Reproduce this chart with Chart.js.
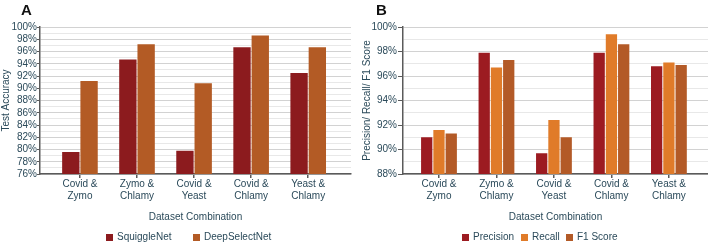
<!DOCTYPE html>
<html lang="en">
  <head>
    <meta charset="UTF-8" />
    <title>Test accuracy and precision / recall / F1</title>
  </head>
  <style>
    * {
      margin: 0;
      padding: 0;
      font-family: "Liberation Sans", Arial, sans-serif;
    }
    body {
      width: 708px;
      height: 243px;
      background: white;
      position: relative;
      overflow: hidden;
    }
    .panel {
      position: absolute;
      top: 0;
      width: 354px;
      height: 243px;
    }
    .letter {
      position: absolute;
      top: 1px;
      font-size: 15px;
      font-weight: bold;
      color: #111;
    }
    .legendItem {
      position: absolute;
      top: 232px;
      height: 10px;
      line-height: 10px;
      font-size: 10px;
      color: #2b4a5a;
      white-space: nowrap;
    }
    .legendItem span {
      display: inline-block;
      width: 7px;
      height: 7px;
      margin-right: 4px;
      vertical-align: -1px;
    }
  </style>
  <body>
    <div class="panel" style="left: 0">
      <canvas id="chartA" width="354" height="243"></canvas>
    </div>
    <div class="panel" style="left: 354px">
      <canvas id="chartB" width="354" height="243"></canvas>
    </div>
    <div class="letter" style="left: 21px">A</div>
    <div class="letter" style="left: 376px">B</div>
    <div id="legendA"></div>
    <div id="legendB"></div>

    <script src="https://cdn.jsdelivr.net/npm/chart.js"></script>

    <script>
      // data block
      const categories = [
        ["Covid &", "Zymo"],
        ["Zymo &", "Chlamy"],
        ["Covid &", "Yeast"],
        ["Covid &", "Chlamy"],
        ["Yeast &", "Chlamy"]
      ];
      const squiggleNet = [79.6, 94.7, 79.8, 96.7, 92.5];
      const deepSelectNet = [91.2, 97.2, 90.8, 98.6, 96.7];
      const precision = [91.0, 97.9, 89.7, 97.9, 96.8];
      const recall = [91.6, 96.7, 92.4, 99.4, 97.1];
      const f1Score = [91.3, 97.3, 91.0, 98.6, 96.9];

      const textColor = "#2b4a5a";
      const axisColor = "#5a5a5a";

      Chart.defaults.font.family = '"Liberation Sans", Arial, sans-serif';
      Chart.defaults.font.size = 10;
      Chart.defaults.color = textColor;

      const points = (values) => values.map((v, i) => ({ x: i, y: v }));

      function makeChart(id, opts) {
        const datasets = opts.series.map((s) => ({
          label: s.label,
          data: points(s.values),
          backgroundColor: s.color,
          borderWidth: 0,
          barPercentage: opts.barPct,
          categoryPercentage: opts.catPct
        }));

        return new Chart(document.getElementById(id), {
          type: "bar",
          data: { datasets },
          options: {
            responsive: false,
            animation: false,
            devicePixelRatio: 1,
            layout: { padding: { top: 27, right: opts.padRight, bottom: 0, left: 0 } },
            plugins: { legend: { display: false }, tooltip: { enabled: false } },
            scales: {
              x: {
                type: "linear",
                min: opts.xMin,
                max: opts.xMax,
                offset: false,
                afterBuildTicks: (s) => {
                  s.ticks = categories.map((c, i) => ({ value: i }));
                },
                afterFit: (s) => {
                  s.height = 69;
                },
                ticks: {
                  autoSkip: false,
                  maxRotation: 0,
                  padding: 0,
                  callback: (v) => categories[v]
                },
                grid: {
                  offset: false,
                  drawOnChartArea: false,
                  tickLength: 4,
                  color: axisColor,
                  lineWidth: 1.5
                },
                border: { color: axisColor, width: 1.5 },
                title: {
                  display: true,
                  text: "Dataset Combination",
                  padding: { top: 0, bottom: 20 }
                }
              },
              y: {
                min: opts.yMin,
                max: 100,
                afterFit: (s) => {
                  s.width = opts.yWidth;
                },
                ticks: {
                  stepSize: 1,
                  autoSkip: false,
                  padding: opts.tickPad,
                  callback: (v) => (v % 2 === 0 ? v + "%" : "")
                },
                grid: {
                  tickLength: opts.tickLen,
                  color: (c) => (c.tick && c.tick.value % 2 === 0 ? "#d2d2d2" : "#e8e8e8"),
                  tickColor: (c) => (c.tick && c.tick.value % 2 === 0 ? axisColor : "rgba(0,0,0,0)")
                },
                border: { color: axisColor, width: 1.5 },
                title: {
                  display: true,
                  text: opts.yTitle,
                  padding: { top: opts.titlePad, bottom: 0 }
                }
              }
            }
          }
        });
      }

      const chartA = makeChart("chartA", {
        series: [
          { label: "SquiggleNet", values: squiggleNet, color: "#8c1b1e" },
          { label: "DeepSelectNet", values: deepSelectNet, color: "#b35b25" }
        ],
        xMin: -0.7,
        xMax: 4.75,
        yMin: 76,
        yWidth: 40,
        tickLen: 3,
        tickPad: 0,
        titlePad: 0,
        padRight: 3,
        barPct: 0.95,
        catPct: 0.64,
        yTitle: "Test Accuracy"
      });

      const chartB = makeChart("chartB", {
        series: [
          { label: "Precision", values: precision, color: "#9c1b21" },
          { label: "Recall", values: recall, color: "#e07b29" },
          { label: "F1 Score", values: f1Score, color: "#b35a27" }
        ],
        xMin: -0.626,
        xMax: 4.68,
        yMin: 88,
        yWidth: 49,
        tickLen: 5,
        tickPad: 1,
        titlePad: 7,
        padRight: 0,
        barPct: 0.92,
        catPct: 0.64,
        yTitle: "Precision/ Recall/ F1 Score"
      });

      // html legends, placed under each panel
      function legend(id, chart, lefts) {
        const box = document.getElementById(id);
        chart.data.datasets.forEach((d, i) => {
          const item = document.createElement("div");
          item.className = "legendItem";
          item.style.left = lefts[i] + "px";
          item.innerHTML = '<span style="background:' + d.backgroundColor + '"></span>' + d.label;
          box.appendChild(item);
        });
      }
      legend("legendA", chartA, [106, 193]);
      legend("legendB", chartB, [462, 521, 566]);
    </script>
  </body>
</html>
